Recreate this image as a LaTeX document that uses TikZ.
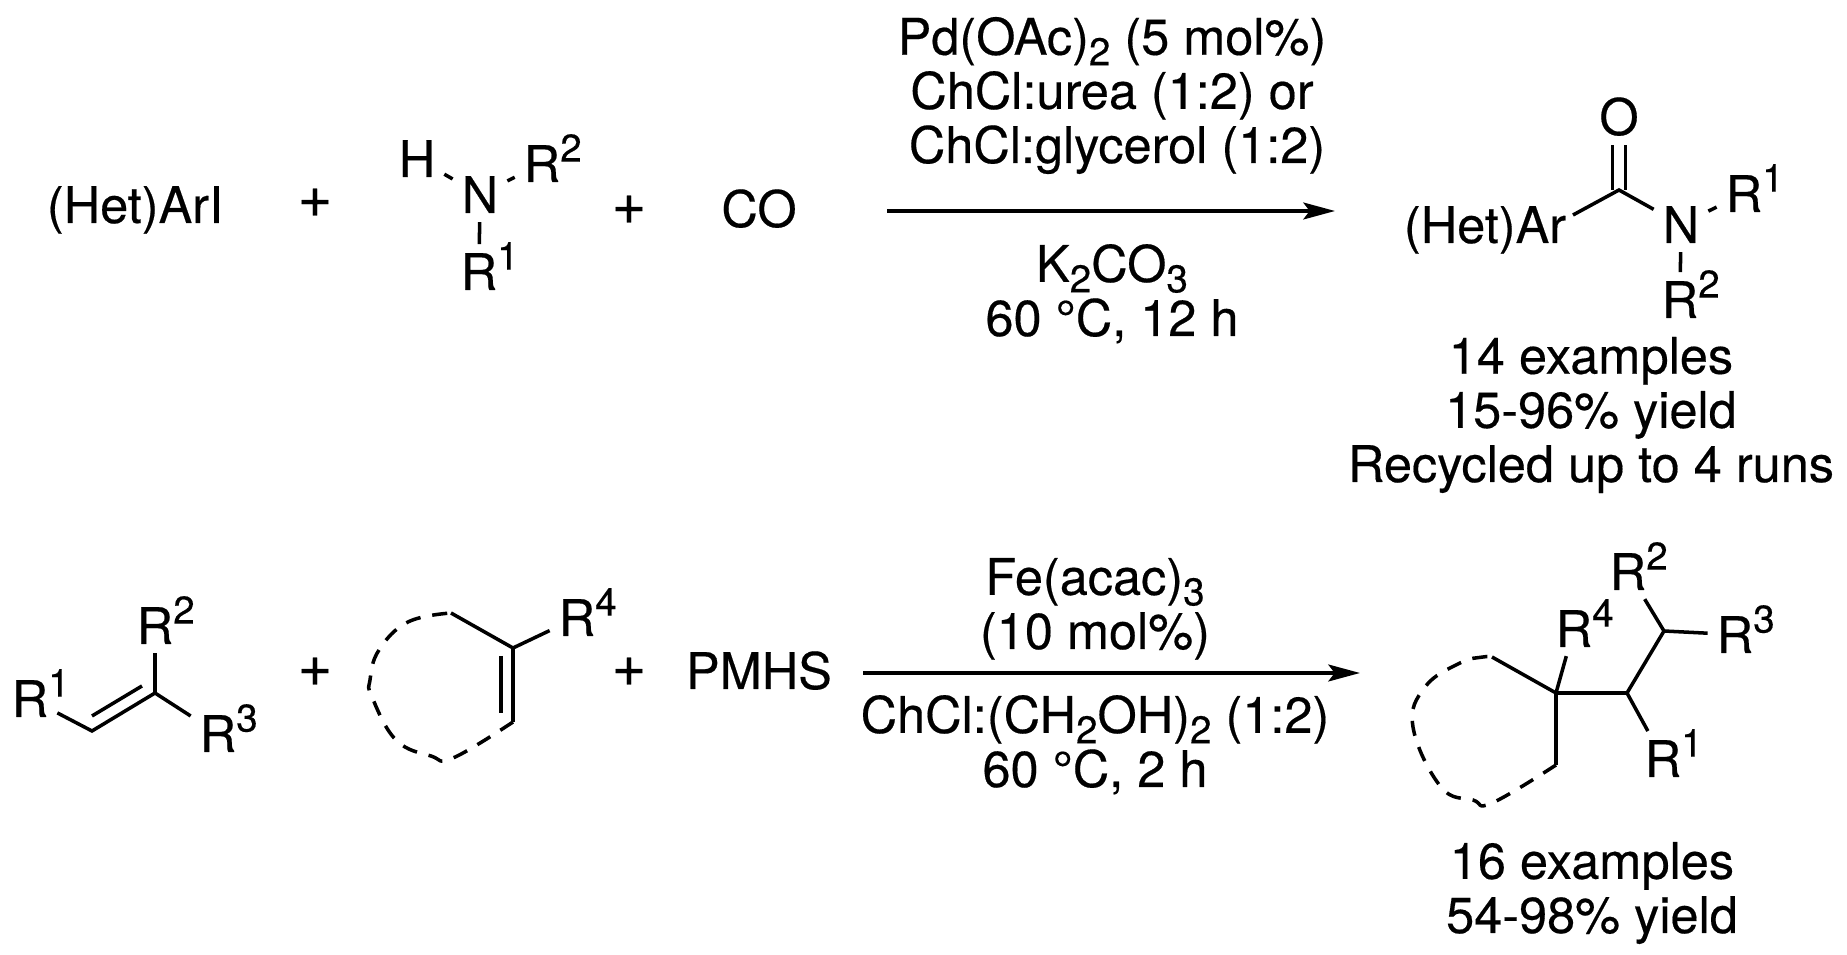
\documentclass[tikz,border=0pt]{standalone}
\usepackage{fontspec}
\setmainfont{TeX Gyre Heros}[FakeBold=0.35]
\usetikzlibrary{arrows.meta}
\newcommand{\supn}[1]{\raisebox{5.8pt}{\fontsize{11}{12}\selectfont #1}}
\newcommand{\subn}[1]{\raisebox{-3pt}{\fontsize{11}{12}\selectfont #1}}
\newcommand{\Rsup}[1]{R\rlap{\smash{\supn{#1}}}}
\tikzset{
  txt/.style={anchor=base,inner sep=0pt,font=\fontsize{14.35}{15.4}\selectfont},
  atom/.style={txt,outer sep=2.6pt},
  plus/.style={anchor=base,inner sep=0pt,font=\fontsize{17}{18}\selectfont},
  bond/.style={line width=1pt},
  ringdash/.style={line width=1pt,dash pattern=on 4.3pt off 3.4pt},
  rxn/.style={line width=1pt,-{Stealth[length=9pt,width=4.8pt,inset=1.8pt]}}
}
\begin{document}
\begin{tikzpicture}[x=0.01cm,y=-0.01cm]
\useasboundingbox (0,0) rectangle (1847,955);

\coordinate (arrAs) at (887,211);
\coordinate (arrAe) at (1335,211);
\coordinate (arrBs) at (863,673);
\coordinate (arrBe) at (1360,673);
\coordinate (amC) at (1619,190);
\coordinate (amAr) at (1573,215);
\coordinate (enA) at (92,731);
\coordinate (enB) at (155,693);
\coordinate (enAi) at (92,716);
\coordinate (enBi) at (142,686);
\coordinate (cyA) at (451,613);
\coordinate (cyB) at (513,648);
\coordinate (cyC) at (513,722);
\coordinate (cyBi) at (501,656);
\coordinate (cyCi) at (501,713);
\coordinate (prA) at (1492,657);
\coordinate (prQ) at (1556,693);
\coordinate (prB) at (1556,765);
\coordinate (prC) at (1627,693);
\coordinate (prD) at (1664,631);

\node[txt] (arI) at (135,223) {(Het)ArI};
\node[plus] (plusA) at (315,217) {+};
\node[atom] (hA) at (417,177) {H};
\node[atom] (nA) at (480,213) {N};
\node[atom] (rA2) at (542,182) {\Rsup{2}};
\node[atom] (rA1) at (479,290) {\Rsup{1}};
\node[plus] (plusB) at (629,224) {+};
\node[txt] (co) at (759,227) {CO};
\draw[bond] (nA)--(hA);
\draw[bond] (nA)--(rA2);
\draw[bond] (nA)--(rA1);

\node[txt,align=center] (condA) at (1112,163) {Pd(OAc)\subn{2} (5 mol\%)\\ChCl:urea (1:2) or\\\hspace*{0.2em}ChCl:glycerol (1:2)};
\draw[rxn] (arrAs)--(arrAe);
\node[txt,align=center] (condB) at (1112,336) {K\subn{2}CO\subn{3}\\60 °C, 12 h};

\node[txt] (hetAr) at (1485,243) {(Het)Ar};
\node[atom] (oA) at (1619,135) {O};
\node[atom] (nB) at (1681,243) {N};
\node[atom] (rB1) at (1744,212) {\Rsup{1}};
\node[atom] (rB2) at (1680,318) {\Rsup{2}};
\draw[bond,double,double distance=2.6pt] (amC)--(oA);
\draw[bond] (amAr)--(amC)--(nB);
\draw[bond] (nB)--(rB1);
\draw[bond] (nB)--(rB2);
\node[txt,align=center] (yieldA) at (1591,482) {14 examples\\15-96\% yield\\Recycled up to 4 runs};

\node[atom] (rC1) at (30,717) {\Rsup{1}};
\node[atom] (rC2) at (155,644) {\Rsup{2}};
\node[atom] (rC3) at (218,752) {\Rsup{3}};
\draw[bond] (rC1)--(enA)--(enB)--(rC2);
\draw[bond] (enB)--(rC3);
\draw[bond] (enAi)--(enBi);
\node[plus] (plusC) at (315,686) {+};

\node[atom] (rD4) at (577,636) {\Rsup{4}};
\draw[bond] (cyA)--(cyB)--(cyC);
\draw[bond] (cyB)--(rD4);
\draw[bond] (cyBi)--(cyCi);
\draw[ringdash] plot[smooth,tension=0.7] coordinates {(cyC) (453,758) (431,756) (396,740) (372,697) (370,680) (379,650) (408,622) (cyA)};
\node[plus] (plusD) at (629,686) {+};
\node[txt] (pmhs) at (759,689) {PMHS};

\node[txt,align=center] (condC) at (1095,649) {Fe(acac)\subn{3}\\(10 mol\%)};
\draw[rxn] (arrBs)--(arrBe);
\node[txt,align=center] (condD) at (1095,787) {ChCl:(CH\subn{2}OH)\subn{2} (1:2)\\60 °C, 2 h};

\node[atom] (rE4) at (1574,647) {\Rsup{4}};
\node[atom] (rE2) at (1628,590) {\Rsup{2}};
\node[atom] (rE3) at (1735,653) {\Rsup{3}};
\node[atom] (rE1) at (1663,777) {\Rsup{1}};
\draw[bond] (prA)--(prQ)--(prB);
\draw[bond] (prQ)--(prC)--(prD);
\draw[bond] (prQ)--(rE4);
\draw[bond] (prC)--(rE1);
\draw[bond] (prD)--(rE2);
\draw[bond] (prD)--(rE3);
\draw[ringdash] plot[smooth,tension=0.7] coordinates {(prB) (1492,803) (1473,800) (1441,787) (1413,727) (1425,687) (1460,663) (1483,657) (prA)};
\node[txt,align=center] (yieldB) at (1592,933) {16 examples\\54-98\% yield};

\end{tikzpicture}
\end{document}
